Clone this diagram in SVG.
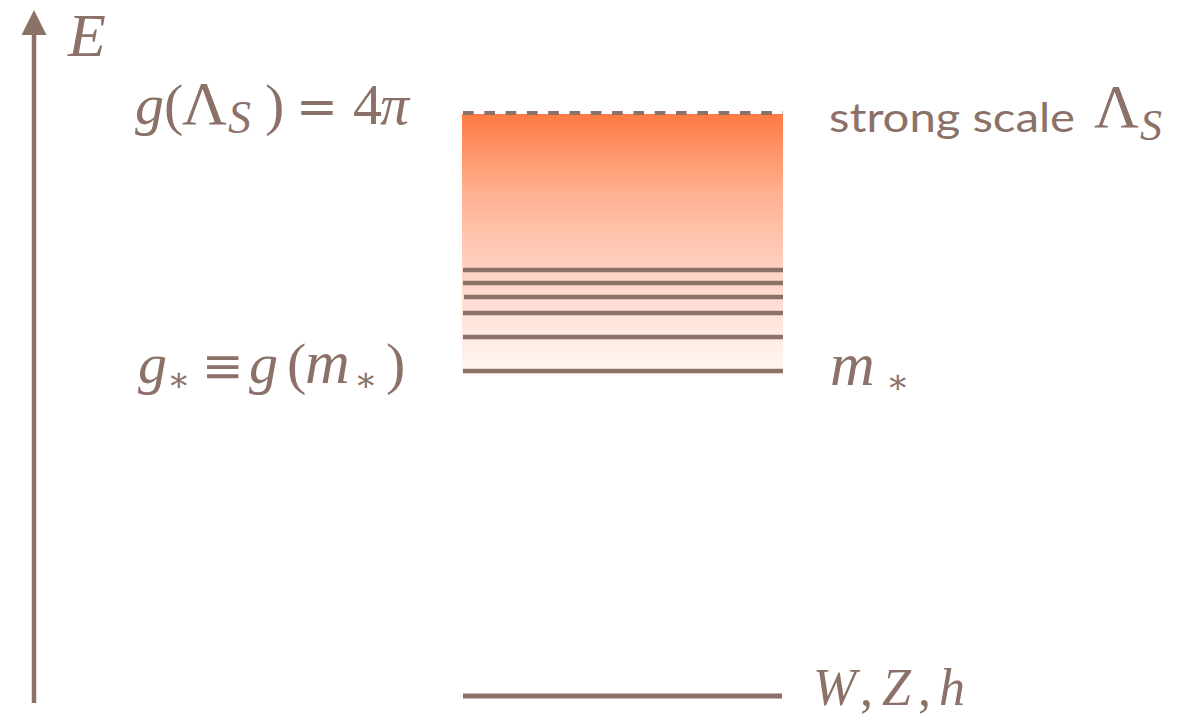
<svg xmlns="http://www.w3.org/2000/svg" width="1178" height="717" viewBox="0 0 1178 717">
<style>
.mt{font-family:'Liberation Serif','Times New Roman',serif;fill:#8b7168}
.i{font-style:italic}
.n{font-style:normal}
.dj{font-family:'DejaVu Serif',serif;font-style:normal}
.s{font-family:Lato,'Open Sans',sans-serif;fill:#8b7168}
.lv{stroke:#8b7168;stroke-width:4.5;fill:none}
</style>
<defs>
<linearGradient id="gr" x1="0" y1="0" x2="0" y2="1">
<stop offset="0" stop-color="#ff7a42"/>
<stop offset="0.3" stop-color="#ffb091"/>
<stop offset="0.6" stop-color="#ffd3c4"/>
<stop offset="1" stop-color="#fff8f5"/>
</linearGradient>
</defs>
<rect width="1178" height="717" fill="#ffffff"/>
<g id="axis">
<line x1="34" y1="703" x2="34" y2="30" stroke="#8b7168" stroke-width="4.5"/>
<polygon points="34,10 21.5,35 46.5,35" fill="#8b7168"/>
<text class="mt i" x="68" y="56" font-size="62">E</text>
</g>
<g id="band">
<rect x="462" y="114" width="321" height="262" fill="url(#gr)"/>
</g>
<g id="levels">
<line x1="463" y1="113" x2="783" y2="113" stroke="#8b7168" stroke-width="4" stroke-dasharray="10.7 10.6"/>
<line class="lv" x1="463" y1="270" x2="783" y2="270"/>
<line class="lv" x1="463" y1="283" x2="783" y2="283"/>
<line class="lv" x1="464" y1="297" x2="783" y2="297"/>
<line class="lv" x1="463" y1="313" x2="783" y2="313"/>
<line class="lv" x1="463" y1="337" x2="783" y2="337"/>
<line class="lv" x1="463" y1="371" x2="783" y2="371"/>
<line x1="463" y1="696" x2="782" y2="696" stroke="#8b7168" stroke-width="5"/>
</g>
<g id="label-lambda">
<text class="mt" font-size="58"><tspan class="i" x="135" y="124">g</tspan><tspan class="n" x="164" y="124">(</tspan><tspan class="n" x="182" y="124" font-size="62">Λ</tspan><tspan class="i" x="228" y="133" font-size="46">S</tspan><tspan class="n" x="265" y="124">)</tspan><tspan class="dj" x="296" y="124" font-size="50">=</tspan><tspan class="n" x="353" y="124">4</tspan><tspan class="i" x="380" y="124">π</tspan></text>
</g>
<g id="label-gstar">
<text class="mt" font-size="58"><tspan class="i" x="138" y="383">g</tspan><tspan class="dj" x="167" y="391" font-size="34">∗</tspan><tspan class="dj" x="202" y="383" font-size="50">≡</tspan><tspan class="i" x="249" y="383">g</tspan><tspan class="n" x="287" y="383">(</tspan><tspan class="i" x="305" y="383" font-size="62">m</tspan><tspan class="dj" x="354" y="391" font-size="34">∗</tspan><tspan class="n" x="386" y="383">)</tspan></text>
</g>
<g id="label-strong">
<text class="s" x="829" y="132" font-size="40" textLength="246" lengthAdjust="spacingAndGlyphs">strong scale</text>
<text class="mt" font-size="62"><tspan class="n" x="1094" y="127">Λ</tspan><tspan class="i" x="1140" y="140" font-size="44">S</tspan></text>
</g>
<g id="label-mstar">
<text class="mt" font-size="62"><tspan class="i" x="830" y="385">m</tspan><tspan class="dj" x="886" y="393" font-size="34">∗</tspan></text>
</g>
<g id="label-wzh">
<text class="mt" font-size="52"><tspan class="i" x="813" y="705">W</tspan><tspan class="n" x="860" y="705">,</tspan><tspan class="i" x="882" y="705">Z</tspan><tspan class="n" x="918" y="705">,</tspan><tspan class="i" x="939" y="705">h</tspan></text>
</g>
</svg>
